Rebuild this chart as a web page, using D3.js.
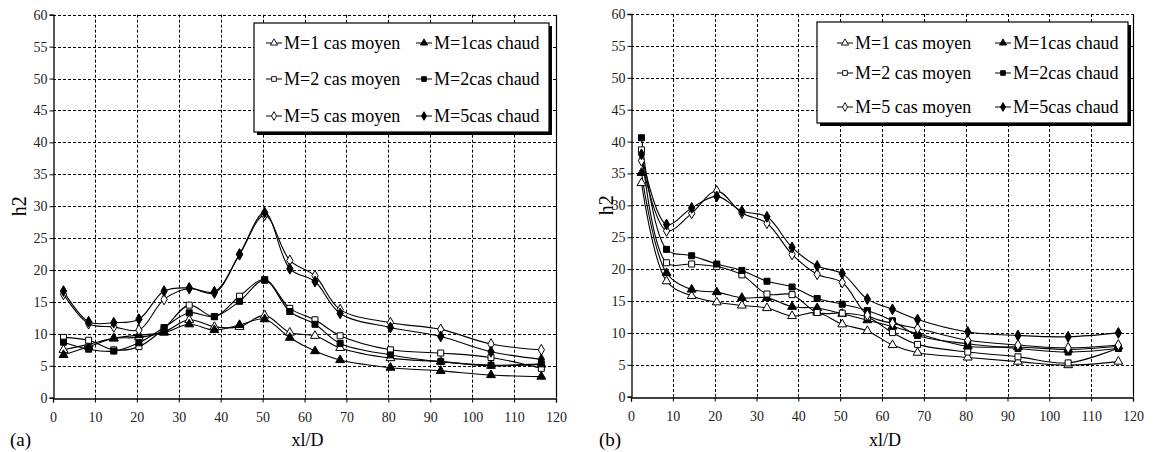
<!DOCTYPE html>
<html>
<head>
<meta charset="utf-8">
<script src="https://cdn.jsdelivr.net/npm/d3@7"></script>
<style>
  body { margin: 0; background: #fff; }
  svg text { font-family: "Liberation Serif", "Times New Roman", "DejaVu Serif", serif; }
</style>
</head>
<body>
<div id="chart"></div>
<script>
// x positions (xl/D)
var xl = [2.5, 8.5, 14.5, 20.5, 26.5, 32.5, 38.5, 44.5, 50.5, 56.5, 62.5, 68.5, 80.5, 92.5, 104.5, 116.5];
var xTicks = [0, 10, 20, 30, 40, 50, 60, 70, 80, 90, 100, 110, 120];
var yTicks = [0, 5, 10, 15, 20, 25, 30, 35, 40, 45, 50, 55, 60];

var seriesNames = ["M=1 cas moyen", "M=1cas chaud", "M=2 cas moyen", "M=2cas chaud", "M=5 cas moyen", "M=5cas chaud"];
var seriesShapes = ["triangle", "triangle", "square", "square", "diamond", "diamond"];
var seriesFilled = [false, true, false, true, false, true];

// panel (a)
var a_M1moyen = [7.5, 8.35, 9.3, 9.45, 10.3, 12.2, 11.1, 11.1, 12.9, 10.2, 9.7, 7.8, 6.2, 5.65, 5.0, 5.2];
var a_M1chaud = [6.7, 8.0, 9.3, 9.8, 10.2, 11.5, 10.6, 11.4, 12.3, 9.4, 7.3, 5.9, 4.7, 4.2, 3.55, 3.3];
var a_M2moyen = [9.45, 9.0, 7.5, 8.0, 10.85, 14.5, 12.7, 15.9, 18.5, 14.0, 12.2, 9.7, 7.5, 7.0, 6.3, 4.6];
var a_M2chaud = [8.7, 7.6, 7.3, 8.6, 11.0, 13.3, 12.7, 15.1, 18.4, 13.5, 11.5, 8.5, 6.7, 5.65, 5.1, 5.3];
var a_M5moyen = [16.2, 11.6, 11.1, 10.6, 15.4, 17.1, 16.4, 22.4, 28.6, 21.5, 19.1, 13.8, 11.75, 10.7, 8.4, 7.5];
var a_M5chaud = [16.7, 11.9, 11.75, 12.3, 16.7, 17.2, 16.6, 22.5, 29.0, 20.2, 18.2, 13.2, 11.0, 9.6, 7.2, 6.0];

// panel (b)
var b_M1moyen = [33.5, 18.1, 15.8, 14.8, 14.3, 13.9, 12.65, 13.2, 11.35, 10.3, 8.1, 6.9, 6.15, 5.5, 4.95, 5.5];
var b_M1chaud = [35.1, 19.4, 16.8, 16.4, 15.5, 15.5, 14.1, 13.9, 13.0, 12.0, 11.0, 9.9, 7.9, 7.8, 7.4, 7.9];
var b_M2moyen = [38.7, 21.0, 20.8, 20.4, 19.1, 16.1, 16.0, 13.2, 13.1, 12.5, 10.05, 8.2, 7.0, 6.25, 5.3, 7.65];
var b_M2chaud = [40.6, 23.1, 22.1, 20.8, 19.8, 18.1, 17.2, 15.4, 14.5, 13.5, 11.9, 9.6, 8.3, 7.55, 7.0, 7.55];
var b_M5moyen = [37.0, 26.0, 28.75, 32.25, 28.8, 27.2, 22.3, 19.2, 17.9, 12.8, 11.5, 10.7, 8.85, 8.1, 7.65, 8.1];
var b_M5chaud = [38.0, 27.0, 29.6, 31.4, 29.1, 28.2, 23.4, 20.5, 19.3, 15.3, 13.7, 12.1, 10.15, 9.6, 9.4, 10.0];

var W = 1154, H = 452;
var svg = d3.select("#chart").append("svg")
    .attr("width", W)
    .attr("height", H);
svg.append("rect").attr("width", W).attr("height", H).attr("fill", "#fff");

function shapeOf(name) {
    if (name === "triangle") return d3.symbol().type(d3.symbolTriangle).size(34);
    if (name === "square") return d3.symbol().type(d3.symbolSquare).size(36);
    return d3.symbol().type(d3.symbolDiamond).size(34);
}

function drawPanel(cfg) {
    var xScale = d3.scaleLinear().domain([0, 120]).range([cfg.left, cfg.right]);
    var yScale = d3.scaleLinear().domain([0, 60]).range([cfg.bottom, cfg.top]);
    var g = svg.append("g");

    // grid
    var grid = g.append("g").attr("stroke", "#000").attr("stroke-width", 1).attr("stroke-dasharray", "3,2");
    grid.selectAll(".hg").data(yTicks.filter(function(d) { return d > 0; }))
        .enter().append("line")
        .attr("x1", cfg.left).attr("x2", cfg.right)
        .attr("y1", function(d) { return Math.round(yScale(d)) + 0.5; })
        .attr("y2", function(d) { return Math.round(yScale(d)) + 0.5; });
    grid.selectAll(".vg").data(xTicks.filter(function(d) { return d > 0 && d < 120; }))
        .enter().append("line")
        .attr("y1", cfg.top).attr("y2", cfg.bottom)
        .attr("x1", function(d) { return Math.round(xScale(d)) + 0.5; })
        .attr("x2", function(d) { return Math.round(xScale(d)) + 0.5; });

    // right border
    g.append("line")
        .attr("x1", Math.round(cfg.right) + 0.5).attr("x2", Math.round(cfg.right) + 0.5)
        .attr("y1", cfg.top).attr("y2", cfg.bottom)
        .attr("stroke", "#000").attr("stroke-width", 1.2);

    // axes
    var yAxis = g.append("g")
        .attr("transform", "translate(" + (Math.round(cfg.left) + 0.5) + ",0)")
        .call(d3.axisLeft(yScale).tickValues(yTicks).tickSize(4).tickPadding(2));
    var xAxis = g.append("g")
        .attr("transform", "translate(0," + (Math.round(cfg.bottom) + 0.5) + ")")
        .call(d3.axisBottom(xScale).tickValues(xTicks).tickSize(4).tickPadding(10));
    [yAxis, xAxis].forEach(function(ax) {
        ax.selectAll("path").attr("stroke", "#000").attr("stroke-width", 1.3);
        ax.selectAll("line").attr("stroke", "#000");
        ax.selectAll("text").attr("font-size", 14).attr("fill", "#222");
    });

    // axis titles
    g.append("text")
        .attr("transform", "translate(" + cfg.yTitleX + "," + ((cfg.top + cfg.bottom) / 2) + ") rotate(-90)")
        .attr("text-anchor", "middle")
        .attr("font-size", 20)
        .text("h2");
    g.append("text")
        .attr("x", (cfg.left + cfg.right) / 2 + 3)
        .attr("y", 446)
        .attr("text-anchor", "middle")
        .attr("font-size", 18)
        .text("xl/D");
    g.append("text")
        .attr("x", cfg.panelLabelX)
        .attr("y", 446)
        .attr("font-size", 19)
        .text(cfg.panelLabel);

    // series
    var line = d3.line()
        .x(function(d) { return xScale(d[0]); })
        .y(function(d) { return yScale(d[1]); })
        .curve(d3.curveCatmullRom.alpha(0.5));
    var dataG = g.append("g");
    cfg.series.forEach(function(vals, i) {
        var pts = xl.map(function(x, k) { return [x, vals[k]]; });
        dataG.append("path")
            .attr("d", line(pts))
            .attr("fill", "none")
            .attr("stroke", "#000")
            .attr("stroke-width", 1.1);
    });
    cfg.series.forEach(function(vals, i) {
        var pts = xl.map(function(x, k) { return [x, vals[k]]; });
        dataG.append("g").selectAll("path").data(pts)
            .enter().append("path")
            .attr("d", shapeOf(seriesShapes[i]))
            .attr("transform", function(d) { return "translate(" + xScale(d[0]) + "," + yScale(d[1]) + ")"; })
            .attr("fill", seriesFilled[i] ? "#000" : "#fff")
            .attr("stroke", "#000")
            .attr("stroke-width", 1);
    });

    // legend
    var L = cfg.legend;
    var lg = g.append("g");
    lg.append("rect")
        .attr("x", L.x + 3).attr("y", L.y + 3).attr("width", L.w).attr("height", L.h)
        .attr("fill", "#000");
    lg.append("rect")
        .attr("x", L.x).attr("y", L.y).attr("width", L.w).attr("height", L.h)
        .attr("fill", "#fff").attr("stroke", "#000").attr("stroke-width", 1.2);
    seriesNames.forEach(function(name, i) {
        var col = i % 2, row = Math.floor(i / 2);
        var sx = L.x + L.symX[col];
        var sy = L.rows[row];
        lg.append("line")
            .attr("x1", sx - 8).attr("x2", sx + 8)
            .attr("y1", sy).attr("y2", sy)
            .attr("stroke", "#000").attr("stroke-width", 1);
        lg.append("path")
            .attr("d", shapeOf(seriesShapes[i]).size(22)())
            .attr("transform", "translate(" + sx + "," + sy + ")")
            .attr("fill", seriesFilled[i] ? "#000" : "#fff")
            .attr("stroke", "#000")
            .attr("stroke-width", 0.9);
        lg.append("text")
            .attr("x", sx + 10)
            .attr("y", sy + 6)
            .attr("font-size", 18)
            .text(name);
    });
}

drawPanel({
    left: 53, right: 556, top: 14.7, bottom: 397.7,
    yTitleX: 26, panelLabel: "(a)", panelLabelX: 10,
    series: [a_M1moyen, a_M1chaud, a_M2moyen, a_M2chaud, a_M5moyen, a_M5chaud],
    legend: { x: 254, y: 23, w: 295, h: 109, symX: [20, 170], rows: [43, 79, 116] }
});

drawPanel({
    left: 631, right: 1133, top: 14, bottom: 396.7,
    yTitleX: 613, panelLabel: "(b)", panelLabelX: 599,
    series: [b_M1moyen, b_M1chaud, b_M2moyen, b_M2chaud, b_M5moyen, b_M5chaud],
    legend: { x: 817, y: 22, w: 311, h: 101, symX: [28, 186], rows: [43, 73, 107] }
});
</script>
</body>
</html>
